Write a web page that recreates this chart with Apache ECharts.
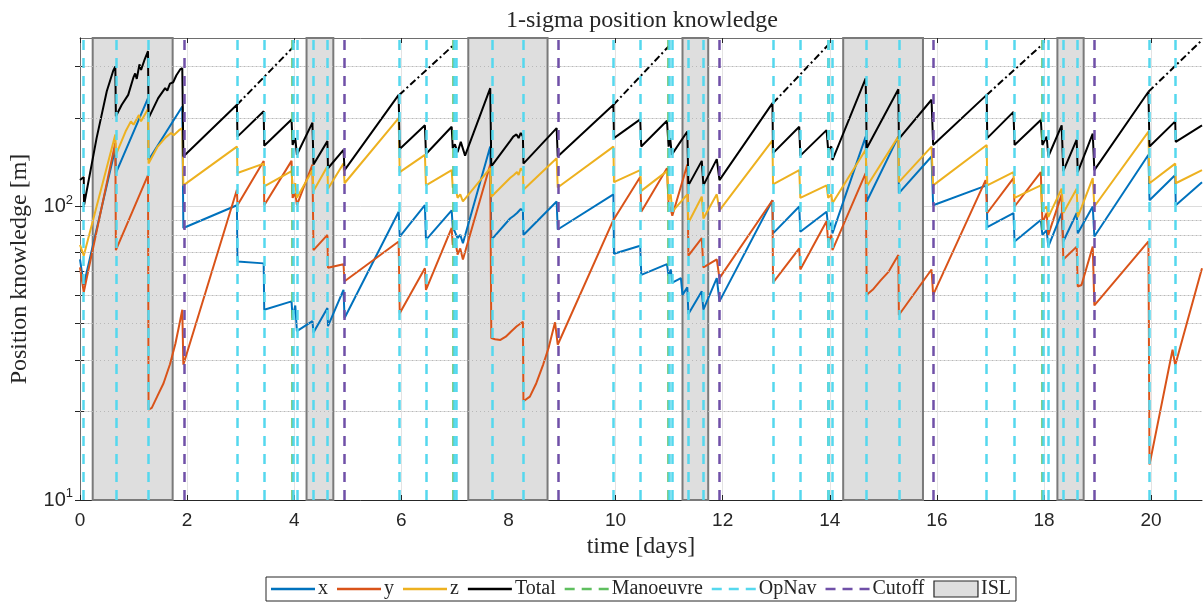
<!DOCTYPE html>
<html><head><meta charset="utf-8">
<script src="https://cdn.jsdelivr.net/npm/echarts@6/dist/echarts.min.js"></script>
<style>html,body{margin:0;padding:0;background:#fff}#c{width:1203px;height:604px}</style>
</head><body><div id="c"></div>
<script>
// ---- data (time [days], value [m]) ----
const seriesX = [[0,66],[0.07,54],[0.66,158],[0.67,130],[1.27,234],[1.28,144],[1.91,219],[1.93,84.5],[2.93,101],[2.94,65],[3.43,64],[3.44,44.5],[3.95,47.5],[3.97,41.7],[4.02,46],[4.05,37.6],[4.34,40.7],[4.36,37.2],[4.62,45.1],[4.63,39.1],[4.92,52],[4.94,41.7],[5.95,96],[5.97,79],[6.44,101],[6.46,77],[6.94,97],[6.96,85],[7.0,82],[7.05,78],[7.1,80],[7.15,75],[7.66,160],[7.68,77],[8.03,91],[8.1,93],[8.16,95],[8.19,94],[8.23,98],[8.27,97],[8.28,80],[8.9,104],[8.92,83.5],[9.96,110],[9.97,69],[10.46,73.5],[10.48,58.5],[10.96,63.6],[10.99,58],[11.03,61],[11.06,55],[11.22,57],[11.25,50],[11.34,53],[11.36,43],[11.61,51.4],[11.64,44.5],[11.89,57],[11.94,47.5],[12.93,105],[12.94,81],[13.43,100],[13.45,82],[13.94,96],[13.97,85],[14.03,88],[14.05,81],[14.67,173],[14.69,104],[15.28,173],[15.29,111],[15.9,148],[15.93,101],[16.93,118],[16.94,85],[17.43,95],[17.45,76],[17.94,90],[17.97,80],[18.05,83],[18.08,73],[18.33,95],[18.36,76],[18.61,95],[18.63,81],[18.91,100],[18.94,79],[19.95,150],[19.97,105],[20.45,128],[20.46,101],[20.95,121]];
const seriesY = [[0,62],[0.07,51],[0.66,165],[0.67,71],[1.27,128],[1.28,20.3],[1.34,20.6],[1.44,22.5],[1.56,25],[1.68,29],[1.78,34],[1.86,40],[1.91,44.5],[1.93,28.9],[2.93,114],[2.94,101],[3.43,143],[3.44,101],[3.95,143],[3.97,107],[4.02,111],[4.05,101],[4.34,139],[4.36,71],[4.62,80],[4.63,61.8],[4.92,63.6],[4.94,55.6],[5.95,76],[5.97,43.3],[6.44,61.6],[6.46,52],[6.94,84.5],[6.96,74],[7.0,78],[7.05,68.6],[7.1,72],[7.15,66],[7.66,139],[7.68,35.6],[7.75,35.3],[7.85,35.1],[7.95,36],[8.05,37.5],[8.15,39],[8.27,40.5],[8.28,21.7],[8.4,22.5],[8.52,25],[8.65,29],[8.75,33],[8.87,40.3],[8.92,33.8],[9.96,90],[10.46,126],[10.48,96],[10.96,135],[10.99,102],[11.03,98],[11.06,93],[11.34,139],[11.36,68],[11.61,78],[11.64,62],[11.89,66],[11.94,57],[12.93,105],[12.94,55],[13.43,72],[13.45,61],[13.94,89],[13.97,76],[14.03,80],[14.05,71],[14.67,130],[14.69,50],[14.8,52],[14.95,56],[15.1,60],[15.28,68.3],[15.29,42.7],[15.9,61],[15.93,50],[16.91,123],[16.94,95],[17.43,125],[17.45,100],[17.94,131],[17.97,88],[18.05,95],[18.08,80],[18.33,110],[18.36,66],[18.61,73],[18.63,53.4],[18.7,54],[18.91,73],[18.94,46],[19.95,76],[19.97,13.2],[20.4,32.5],[20.45,28.8],[20.95,61.6]];
const seriesZ = [[0,74],[0.07,68],[0.66,176],[0.67,150],[0.85,180],[0.95,195],[1.0,190],[1.1,205],[1.14,195],[1.27,215],[1.28,140],[1.45,160],[1.6,172],[1.7,178],[1.75,175],[1.85,182],[1.91,185],[1.93,118],[2.93,160],[2.94,130],[3.43,140],[3.44,117],[3.95,132],[3.97,116],[4.02,120],[4.05,107],[4.34,133],[4.36,113],[4.62,137],[4.63,115],[4.92,140],[4.94,120],[5.95,200],[5.97,131],[6.44,150],[6.46,118],[6.94,133],[6.96,116],[7.0,119],[7.05,107],[7.1,110],[7.15,104],[7.66,135],[7.68,108],[8.03,125],[8.1,128],[8.16,131],[8.19,128],[8.23,135],[8.27,132],[8.28,114],[8.9,146],[8.92,116],[9.96,160],[9.97,121],[10.46,133],[10.48,113],[10.96,132],[10.99,105],[11.03,110],[11.06,96],[11.34,110],[11.36,88],[11.61,108],[11.64,91],[11.89,110],[11.94,97],[12.93,168],[12.94,119],[13.43,133],[13.45,107],[13.94,118],[13.97,107],[14.03,110],[14.05,102.5],[14.67,156],[14.69,117],[15.28,173],[15.29,121],[15.9,160],[15.93,118],[16.93,162],[16.94,118],[17.43,131],[17.45,107],[17.94,118],[17.97,97],[18.05,100],[18.08,92],[18.33,115],[18.36,95],[18.61,115],[18.63,92],[18.91,125],[18.94,100],[19.95,180],[19.97,120],[20.45,140],[20.46,120],[20.95,133]];
const seriesTotal = [[0,123],[0.07,126],[0.075,101],[0.31,171],[0.5,247],[0.62,290],[0.66,300],[0.67,203],[0.78,222],[0.9,240],[1.0,276],[1.03,284],[1.06,272],[1.11,305],[1.14,292],[1.21,318],[1.27,338],[1.28,200],[1.46,234],[1.59,253],[1.63,248],[1.68,262],[1.74,265],[1.8,280],[1.87,293],[1.91,296],[1.93,148],[2.93,222],[2.94,173],[3.43,211],[3.44,161],[3.95,198],[3.97,162],[4.02,171],[4.05,150],[4.34,193],[4.36,139],[4.62,167],[4.63,135],[4.92,156],[4.94,133],[5.95,240],[5.97,157],[6.44,189],[6.46,151],[6.94,187],[6.96,158],[7.0,163],[7.05,153],[7.11,166],[7.19,149],[7.66,253],[7.68,137],[8.03,167],[8.09,173],[8.15,176],[8.19,171],[8.23,178],[8.27,173],[8.28,140],[8.9,185],[8.92,148],[9.96,222],[9.97,171],[10.46,198],[10.48,160],[10.96,196],[10.99,160],[11.02,171],[11.05,150],[11.2,165],[11.34,180],[11.36,118],[11.61,143],[11.64,118],[11.89,145],[11.94,123],[12.93,225],[12.94,152],[13.43,187],[13.45,149],[13.94,182],[13.97,156],[14.03,160],[14.05,144],[14.67,273],[14.69,158],[15.28,251],[15.29,170],[15.9,231],[15.93,162],[16.93,240],[16.94,171],[17.43,210],[17.45,162],[17.94,197],[17.97,162],[18.05,173],[18.08,148],[18.33,189],[18.36,132],[18.61,169],[18.63,131],[18.91,177],[18.94,133],[19.95,246],[19.97,160],[20.45,195],[20.46,166],[20.95,189]];
// Total without the next OpNav (dash-dot extensions)
const totalExtensions = [
  [[2.93,222],[3.98,349]],
  [[5.96,240],[6.97,354]],
  [[9.96,222],[10.99,351]],
  [[12.94,225],[13.97,355]],
  [[16.93,240],[17.98,358]],
  [[19.95,246],[20.95,369]]
];
const manoeuvreTimes = [3.965, 6.97, 10.99, 13.97, 17.97];
const opnavTimes = [0.075, 0.67, 1.28, 2.93, 3.44, 3.975, 4.05, 4.36, 4.62, 5.96, 6.46, 6.98, 7.03, 7.69, 8.28, 9.96, 10.46, 11.0, 11.06, 11.35, 11.64, 12.94, 13.44, 13.98, 14.05, 14.69, 15.29, 16.93, 17.45, 17.98, 18.08, 18.36, 18.63, 19.97, 20.45];
const cutoffTimes = [1.95, 4.94, 8.93, 11.94, 15.93, 18.94];
const islIntervals = [[0.237,1.73],[4.23,4.73],[7.25,8.73],[11.25,11.73],[14.25,15.74],[18.25,18.74]];
const xTickValues = [0,2,4,6,8,10,12,14,16,18,20];
const yTickValues = [10,20,30,40,50,60,70,80,90,100,200,300];
const yLabelValues = [10,100];
const yMinorGrid = [20,30,40,50,60,70,80,90,200,300];

const X_MIN = 0, X_MAX = 20.95, Y_MIN = 10, Y_MAX = 375;
const AX = '#262626';
const SERIF = '"Liberation Serif", "DejaVu Serif", serif';
const SANS = '"Liberation Sans", Arial, sans-serif';
const ICON_SOLID = 'path://M0,0H44V2.5H0Z';
const ICON_DASH = 'path://M0,0H10V2.5H0Z M17,0H27V2.5H17Z M34,0H44V2.5H34Z';

const chart = echarts.init(document.getElementById('c'), null, {renderer: 'canvas'});

const vline = (name, times, color) => ({
  name, type: 'line', data: [], z: 5, symbol: 'none',
  lineStyle: {color, width: 2.5, type: [10, 8]},
  itemStyle: {color},
  markLine: {
    silent: true, symbol: ['none','none'], animation: false,
    label: {show: false},
    lineStyle: {color, width: 2.5, type: [10, 8], opacity: 1},
    emphasis: {disabled: true},
    data: times.map(t => ({xAxis: t}))
  }
});

const dataLine = (name, data, color) => ({
  name, type: 'line', data, z: 3, symbol: 'none', showSymbol: false,
  lineStyle: {color, width: 2}, itemStyle: {color}, emphasis: {disabled: true}
});

const series = [
  {
    name: 'minorGrid', type: 'line', data: [], z: 0, symbol: 'none',
    markLine: {
      silent: true, symbol: ['none','none'], label: {show: false}, animation: false,
      lineStyle: {color: '#b8b8b8', width: 1, type: [1, 3]},
      emphasis: {disabled: true},
      data: yMinorGrid.map(v => ({yAxis: v}))
    }
  },
  {
    name: 'ISL', type: 'line', data: [], z: 1, symbol: 'none',
    itemStyle: {color: '#dedede'},
    markArea: {
      silent: true, animation: false,
      itemStyle: {color: '#dedede', borderColor: '#7a7a7a', borderWidth: 2},
      emphasis: {disabled: true},
      data: islIntervals.map(iv => [{xAxis: iv[0]}, {xAxis: iv[1]}])
    }
  },
  dataLine('x', seriesX, '#0072BD'),
  dataLine('y', seriesY, '#D95319'),
  dataLine('z', seriesZ, '#EDB120'),
  dataLine('Total', seriesTotal, '#000000'),
  ...totalExtensions.map((seg, i) => ({
    name: 'ext' + i, type: 'line', data: seg, z: 3, symbol: 'none',
    lineStyle: {color: '#000', width: 2, type: [7, 3, 2, 3]}
  })),
  vline('Manoeuvre', manoeuvreTimes, '#5fbf5f'),
  vline('OpNav', opnavTimes, '#55d8ee'),
  vline('Cutoff', cutoffTimes, '#7050a8')
];

const li = (name, icon) => ({name, icon, itemStyle: {borderWidth: 0}});

const option = {
  animation: false,
  backgroundColor: '#ffffff',
  title: {
    text: '1-sigma position knowledge', left: 637, textAlign: 'center', top: 4,
    textStyle: {fontFamily: SERIF, fontSize: 24, fontWeight: 'normal', color: AX}
  },
  grid: {left: 80, right: 1, top: 38, bottom: 104, containLabel: false},
  legend: {
    show: true, bottom: 3, left: 266,
    data: [
      li('x', ICON_SOLID), li('y', ICON_SOLID), li('z', ICON_SOLID), li('Total', ICON_SOLID),
      li('Manoeuvre', ICON_DASH), li('OpNav', ICON_DASH), li('Cutoff', ICON_DASH),
      {name: 'ISL', icon: 'rect', itemStyle: {color: '#dedede', borderColor: '#262626', borderWidth: 1.2}}
    ],
    itemWidth: 44, itemHeight: 16, itemGap: 9,
    padding: [2, 5, 2, 5],
    borderColor: AX, borderWidth: 1,
    textStyle: {fontFamily: SERIF, fontSize: 20, color: AX, padding: [0, 0, 0, -2]},
    selectedMode: false
  },
  xAxis: [{
    type: 'value', min: X_MIN, max: X_MAX, interval: 2, position: 'bottom',
    name: 'time [days]', nameLocation: 'middle', nameGap: 35,
    nameTextStyle: {fontFamily: SERIF, fontSize: 24, color: AX},
    axisLine: {show: true, lineStyle: {color: AX, width: 1}},
    axisTick: {show: true, inside: true, length: 5, lineStyle: {color: AX}, customValues: xTickValues},
    axisLabel: {show: true, customValues: xTickValues, margin: 11, fontFamily: SANS, fontSize: 19, color: AX},
    splitLine: {show: true, lineStyle: {color: '#e3e3e3', width: 1}}
  }, {
    type: 'value', min: X_MIN, max: X_MAX, interval: 2, position: 'top',
    axisLine: {show: true, lineStyle: {color: '#6e6e6e', width: 1}},
    axisTick: {show: true, inside: true, length: 5, lineStyle: {color: AX}, customValues: xTickValues},
    axisLabel: {show: false}, splitLine: {show: false}
  }],
  yAxis: [{
    type: 'log', logBase: 10, min: Y_MIN, max: Y_MAX, position: 'left',
    name: 'Position knowledge [m]', nameLocation: 'middle', nameGap: 48,
    nameTextStyle: {fontFamily: SERIF, fontSize: 24, color: AX},
    axisLine: {show: true, lineStyle: {color: AX, width: 1}},
    axisTick: {show: true, inside: true, length: 5, lineStyle: {color: AX}, customValues: yTickValues},
    axisLabel: {
      show: true, customValues: yLabelValues, margin: 7,
      formatter: v => '{b|10}{s|' + Math.round(Math.log10(v)) + '}',
      rich: {
        b: {fontFamily: SANS, fontSize: 20, color: AX},
        s: {fontFamily: SANS, fontSize: 13, color: AX, padding: [0, 0, 13, 0]}
      }
    },
    splitLine: {show: true, lineStyle: {color: '#dcdcdc', width: 1}}
  }, {
    type: 'log', logBase: 10, min: Y_MIN, max: Y_MAX, position: 'right',
    axisLine: {show: true, lineStyle: {color: '#6e6e6e', width: 1}},
    axisTick: {show: true, inside: true, length: 5, lineStyle: {color: AX}, customValues: yTickValues},
    axisLabel: {show: false}, splitLine: {show: false}
  }],
  series: series
};
chart.setOption(option);
</script>
</body></html>
